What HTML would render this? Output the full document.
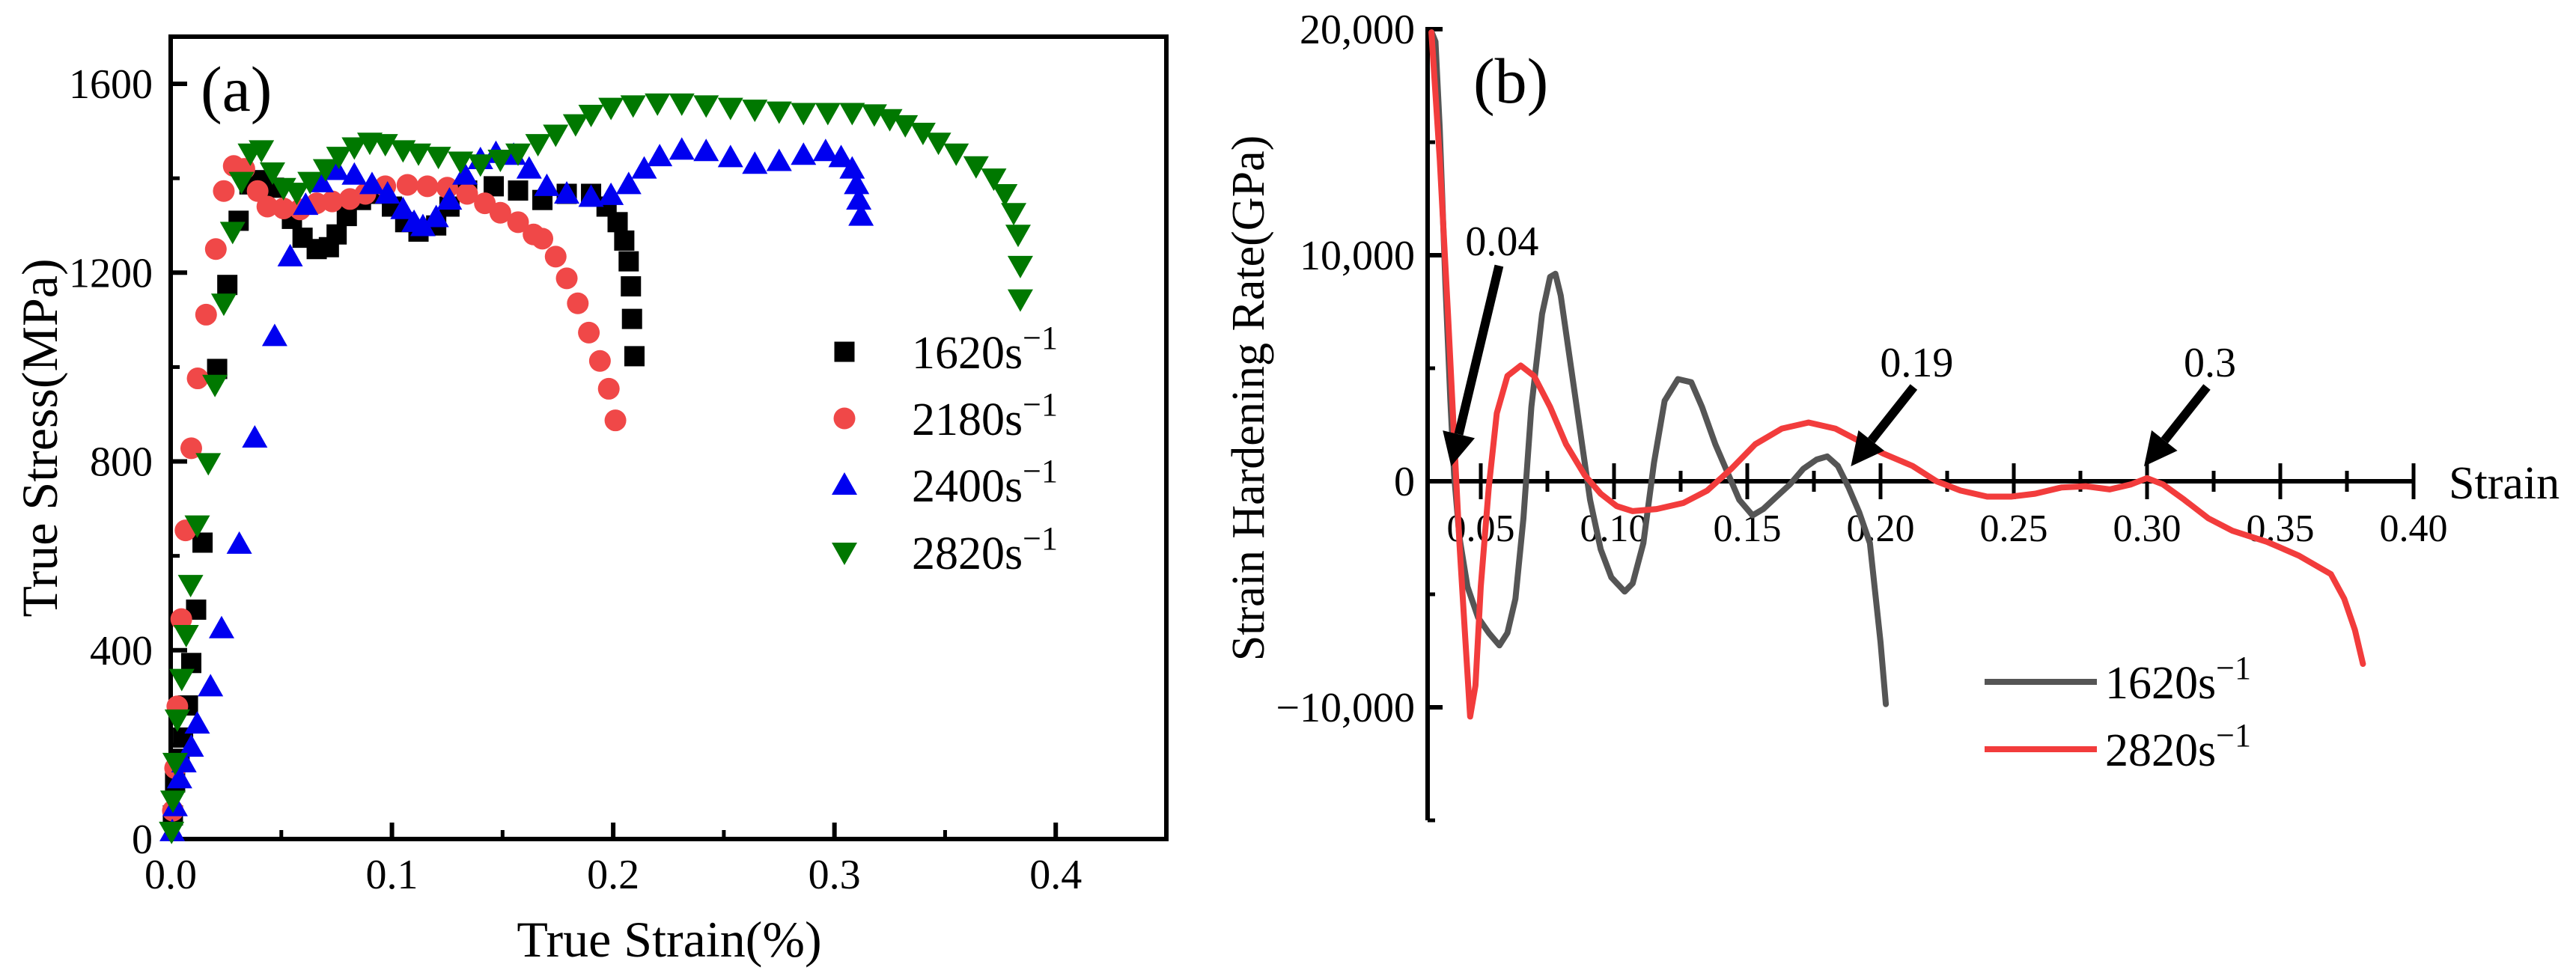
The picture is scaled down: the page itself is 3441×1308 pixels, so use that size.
<!DOCTYPE html>
<html><head><meta charset="utf-8">
<style>
html,body{margin:0;padding:0;background:#fff;}
svg{display:block;font-family:"Liberation Serif",serif;}
</style></head>
<body>
<svg id="fig" width="3441" height="1308" viewBox="0 0 3441 1308" xmlns="http://www.w3.org/2000/svg">
<g id="pa"></g>
<g id="pb"></g>
</svg>
<script>
// ---------- Panel (a) data ----------
const a_xTicks = [0.0, 0.1, 0.2, 0.3, 0.4];
const a_xTickLabels = ["0.0", "0.1", "0.2", "0.3", "0.4"];
const a_yTicks = [0, 400, 800, 1200, 1600];
const a_yTickLabels = ["0", "400", "800", "1200", "1600"];
const a_seriesNames = ["1620", "2180", "2400", "2820"];
const a_s1620_x = [0.001,0.002,0.004,0.0056,0.0078,0.0093,0.0115,0.0144,0.021,0.0256,0.0307,0.0356,0.041,0.0467,0.0548,0.0596,0.066,0.0715,0.075,0.0796,0.086,0.094,0.1,0.106,0.112,0.12,0.126,0.134,0.146,0.157,0.168,0.179,0.19,0.197,0.202,0.205,0.207,0.208,0.2085,0.2096];
const a_s1620_y = [50,120,170,215,283,373,486,628,996,1174,1310,1387,1396,1380,1314,1274,1250,1254,1281,1320,1354,1367,1340,1307,1287,1300,1340,1374,1383,1374,1354,1367,1367,1340,1307,1268,1224,1171,1102,1023];
const a_s2180_x = [0.001,0.002,0.003,0.0048,0.0067,0.0093,0.0122,0.016,0.0204,0.024,0.0285,0.0333,0.0393,0.0437,0.051,0.0585,0.066,0.073,0.081,0.088,0.097,0.107,0.116,0.125,0.134,0.142,0.149,0.157,0.164,0.168,0.174,0.179,0.184,0.189,0.194,0.198,0.201];
const a_s2180_y = [60,150,281,466,654,828,976,1111,1250,1373,1426,1420,1373,1340,1336,1334,1347,1351,1356,1367,1383,1386,1383,1380,1367,1347,1327,1307,1281,1272,1234,1188,1135,1073,1013,954,887];
const a_s2400_x = [0.0007,0.002,0.004,0.006,0.0093,0.012,0.018,0.023,0.031,0.038,0.047,0.054,0.061,0.068,0.075,0.083,0.091,0.098,0.105,0.11,0.114,0.12,0.126,0.133,0.14,0.147,0.155,0.162,0.17,0.179,0.19,0.199,0.207,0.214,0.221,0.231,0.242,0.253,0.264,0.275,0.286,0.296,0.303,0.308,0.31,0.311,0.312];
const a_s2400_y = [16,69,128,162,195,244,323,446,625,850,1065,1234,1343,1391,1417,1407,1387,1367,1334,1307,1298,1317,1354,1407,1440,1453,1449,1420,1383,1367,1360,1364,1387,1420,1446,1460,1457,1444,1430,1436,1449,1457,1444,1420,1387,1354,1320];
const a_s2820_x = [0.0004,0.001,0.002,0.003,0.005,0.007,0.009,0.012,0.017,0.02,0.024,0.028,0.032,0.036,0.041,0.046,0.051,0.057,0.063,0.07,0.076,0.083,0.09,0.097,0.105,0.112,0.121,0.131,0.14,0.149,0.157,0.166,0.174,0.183,0.19,0.199,0.209,0.22,0.231,0.242,0.253,0.264,0.275,0.286,0.297,0.308,0.318,0.325,0.332,0.34,0.347,0.355,0.364,0.372,0.377,0.381,0.383,0.384,0.384];
const a_s2820_y = [16,82,162,254,340,433,539,665,797,963,1135,1287,1393,1453,1460,1413,1380,1370,1393,1420,1446,1466,1476,1473,1460,1453,1446,1436,1430,1440,1453,1473,1493,1515,1535,1550,1555,1559,1559,1555,1550,1546,1542,1539,1539,1539,1536,1526,1513,1497,1476,1453,1426,1400,1367,1327,1281,1215,1144];

// ---------- Panel (b) data ----------
const b_xTicks = [0.05,0.10,0.15,0.20,0.25,0.30,0.35,0.40];
const b_xTickLabels = ["0.05","0.10","0.15","0.20","0.25","0.30","0.35","0.40"];
const b_yTicks = [20000,10000,0,-10000];
const b_yTickLabels = ["20,000","10,000","0","\u221210,000"];
const b_s1620_x = [0.0316,0.033,0.0346,0.0367,0.0386,0.040,0.042,0.045,0.049,0.053,0.057,0.060,0.063,0.066,0.069,0.073,0.076,0.078,0.080,0.083,0.087,0.091,0.095,0.099,0.104,0.107,0.111,0.115,0.119,0.124,0.129,0.133,0.138,0.143,0.147,0.152,0.156,0.161,0.166,0.171,0.176,0.180,0.184,0.188,0.192,0.196,0.198,0.200,0.202];
const b_s1620_y = [19860,19450,15600,8770,3560,270,-2470,-4660,-6030,-6710,-7260,-6710,-5200,-1640,3290,7400,9040,9180,8220,5750,2470,-820,-3010,-4250,-4880,-4520,-2740,820,3560,4520,4380,3290,1640,270,-820,-1510,-1230,-680,-140,550,960,1100,680,-270,-1370,-2740,-4930,-7120,-9860];
const b_s2820_x = [0.0315,0.0346,0.0377,0.040,0.042,0.044,0.046,0.048,0.050,0.053,0.056,0.060,0.065,0.070,0.076,0.082,0.089,0.095,0.101,0.107,0.116,0.126,0.135,0.144,0.153,0.163,0.173,0.183,0.192,0.201,0.212,0.221,0.230,0.240,0.249,0.258,0.268,0.277,0.286,0.294,0.300,0.306,0.314,0.323,0.332,0.345,0.357,0.369,0.374,0.378,0.381];
const b_s2820_y = [19860,14250,7400,1920,-2740,-6580,-10410,-9040,-4660,-270,3010,4660,5120,4660,3290,1640,270,-550,-1100,-1320,-1230,-960,-410,550,1640,2330,2600,2330,1780,1230,680,0,-410,-680,-680,-550,-270,-220,-360,-140,140,-140,-820,-1640,-2190,-2680,-3290,-4110,-5200,-6580,-8080];
const b_annotLabels = ["0.04","0.19","0.3"];
const b_annotX = [0.04,0.19,0.30];

const NS = "http://www.w3.org/2000/svg";
function mk(parent, tag, attrs, text){
  const e = document.createElementNS(NS, tag);
  for (const k in attrs) e.setAttribute(k, attrs[k]);
  if (text !== undefined) e.textContent = text;
  parent.appendChild(e);
  return e;
}

// ===== Panel A =====
const pa = document.getElementById('pa');
const aL=228, aR=1558, aT=49, aB=1121;
const ax = v => aL + v/0.45*(aR-aL);
const ay = v => aB - v/1700*(aB-aT) ;
let frame = mk(pa,'rect',{x:aL,y:aT,width:aR-aL,height:aB-aT,fill:'none',stroke:'#000','stroke-width':6});


for (let i=0;i<a_xTicks.length;i++){
  const x=ax(a_xTicks[i]);
  let t=mk(pa,'line',{x1:x,y1:aB,x2:x,y2:aB-22,stroke:'#000','stroke-width':6});
  
  
  let l=mk(pa,'text',{x:x,y:aB+66,'font-size':56,'text-anchor':'middle'},a_xTickLabels[i]);
  
  
  if (i<a_xTicks.length-1){
    const xm=ax(a_xTicks[i]+0.05);
    let m=mk(pa,'line',{x1:xm,y1:aB,x2:xm,y2:aB-12,stroke:'#000','stroke-width':5});
    
    
  }
}
for (let i=0;i<a_yTicks.length;i++){
  const y=ay(a_yTicks[i]);
  let t=mk(pa,'line',{x1:aL,y1:y,x2:aL+22,y2:y,stroke:'#000','stroke-width':6});
  
  
  let l=mk(pa,'text',{x:aL-24,y:y+19,'font-size':56,'text-anchor':'end'},a_yTickLabels[i]);
  
  
  const ym=ay(a_yTicks[i]+200);
  let m=mk(pa,'line',{x1:aL,y1:ym,x2:aL+12,y2:ym,stroke:'#000','stroke-width':5});
  
  
}
let xt=mk(pa,'text',{x:894,y:1278,'font-size':68,'text-anchor':'middle'},'True Strain(%)');


let yt=mk(pa,'text',{x:0,y:0,'font-size':68,'text-anchor':'middle',transform:'translate(76,585) rotate(-90)'},'True Stress(MPa)');


let la=mk(pa,'text',{x:268,y:148,'font-size':86},'(a)');



function marker(g, type, x, y){
  let e;
  if (type==='sq') e=mk(g,'rect',{x:x-13.5,y:y-13.5,width:27,height:27,fill:'#000'});
  else if (type==='ci') e=mk(g,'circle',{cx:x,cy:y,r:14.5,fill:'#f04848'});
  else if (type==='up') e=mk(g,'polygon',{points:`${x},${y-17} ${x-17},${y+13} ${x+17},${y+13}`,fill:'#0000f0'});
  else e=mk(g,'polygon',{points:`${x},${y+17} ${x-17},${y-13} ${x+17},${y-13}`,fill:'#007800'});
  return e;
}
const aSeries = [[a_s1620_x,a_s1620_y,'sq'],[a_s2180_x,a_s2180_y,'ci'],[a_s2400_x,a_s2400_y,'up'],[a_s2820_x,a_s2820_y,'dn']];
aSeries.forEach((s,si)=>{
  const g=mk(pa,'g',{});
  
  
  for (let i=0;i<s[0].length;i++){
    const m=marker(g,s[2],ax(s[0][i]),ay(s[1][i]));
    
    
  }
});
const legYa=[470,559,648,738], types=['sq','ci','up','dn'];
for (let i=0;i<4;i++){
  const g=mk(pa,'g',{});
  
  
  marker(g,types[i],1128,legYa[i]);
  const t=mk(g,'text',{x:1218,y:legYa[i]+22,'font-size':62});
  mk(t,'tspan',{},a_seriesNames[i]+'s');
  mk(t,'tspan',{dy:-26,'font-size':44},'\u22121');
}

// ===== Panel B =====
const pb = document.getElementById('pb');
const bL=1907, b0=643;
const bx = v => 1978 + (v-0.05)/0.05*178;
const by = v => b0 - v/10000*302;
let yax=mk(pb,'line',{x1:bL,y1:by(20000)-3,x2:bL,y2:by(-15000),stroke:'#000','stroke-width':6});


let xax=mk(pb,'line',{x1:bL,y1:b0,x2:bx(0.40),y2:b0,stroke:'#000','stroke-width':6});


for (let i=0;i<b_yTicks.length;i++){
  const y=by(b_yTicks[i]);
  let t=mk(pb,'line',{x1:bL,y1:y,x2:bL+20,y2:y,stroke:'#000','stroke-width':6});
  
  
  let l=mk(pb,'text',{x:1890,y:y+19,'font-size':56,'text-anchor':'end'},b_yTickLabels[i]);
  
  
  const ym=by(b_yTicks[i]-5000);
  let m=mk(pb,'line',{x1:bL,y1:ym,x2:bL+10,y2:ym,stroke:'#000','stroke-width':5});
  
  
}
let yb=by(-15000);
let ybt=mk(pb,'line',{x1:bL,y1:yb,x2:bL+10,y2:yb,stroke:'#000','stroke-width':5});


for (let i=0;i<b_xTicks.length;i++){
  const x=bx(b_xTicks[i]);
  let t=mk(pb,'line',{x1:x,y1:b0-24,x2:x,y2:b0+24,stroke:'#000','stroke-width':5});
  
  
  let l=mk(pb,'text',{x:x,y:b0+80,'font-size':52,'text-anchor':'middle'},b_xTickLabels[i]);
  
  
  if (i<b_xTicks.length-1){
    const xm=bx(b_xTicks[i]+0.025);
    let m=mk(pb,'line',{x1:xm,y1:b0-14,x2:xm,y2:b0+14,stroke:'#000','stroke-width':5});
    
    
  }
}
let sxl=mk(pb,'text',{x:3271,y:666,'font-size':62},'Strain');


let ybl=mk(pb,'text',{x:0,y:0,'font-size':62,'text-anchor':'middle',transform:'translate(1688,532) rotate(-90)'},'Strain Hardening Rate(GPa)');


let lb=mk(pb,'text',{x:1968,y:137,'font-size':86},'(b)');



function line(xs,ys,col,name){
  let d='';
  for (let i=0;i<xs.length;i++) d+=(i?'L':'M')+bx(xs[i]).toFixed(1)+','+by(ys[i]).toFixed(1);
  const p=mk(pb,'path',{d:d,fill:'none',stroke:col,'stroke-width':8,'stroke-linejoin':'round','stroke-linecap':'round'});
  
  
}
line(b_s1620_x,b_s1620_y,'#555555','line-1620');
line(b_s2820_x,b_s2820_y,'#f23c3c','line-2820');

for (let i=0;i<b_annotX.length;i++){
  const tx=bx(b_annotX[i]) , ty=b0-14;
  const g=mk(pb,'g',{});
  
  
  const sx = i===0 ? tx+60 : tx+80, sy = i===0 ? 355 : 517;
  const ex = tx-4, ey = ty-6;
  const ang=Math.atan2(ey-sy,ex-sx), hl=44, hw=22;
  const bxp=ex-hl*Math.cos(ang), byp=ey-hl*Math.sin(ang);
  mk(g,'line',{x1:sx,y1:sy,x2:bxp,y2:byp,stroke:'#000','stroke-width':12});
  const px=-Math.sin(ang), py=Math.cos(ang);
  mk(g,'polygon',{points:`${ex},${ey} ${bxp+hw*px},${byp+hw*py} ${bxp-hw*px},${byp-hw*py}`,fill:'#000'});
  mk(g,'text',{x:sx+4,y:sy-14,'font-size':56,'text-anchor':'middle'},b_annotLabels[i]);
}

const legB=[['1620','#555555',911],['2820','#f23c3c',1001]];
legB.forEach(l=>{
  const g=mk(pb,'g',{});
  
  
  mk(g,'line',{x1:2651,y1:l[2],x2:2801,y2:l[2],stroke:l[1],'stroke-width':8});
  const t=mk(g,'text',{x:2812,y:l[2]+22,'font-size':62});
  mk(t,'tspan',{},l[0]+'s');
  mk(t,'tspan',{dy:-26,'font-size':44},'\u22121');
});
</script>
</body></html>
